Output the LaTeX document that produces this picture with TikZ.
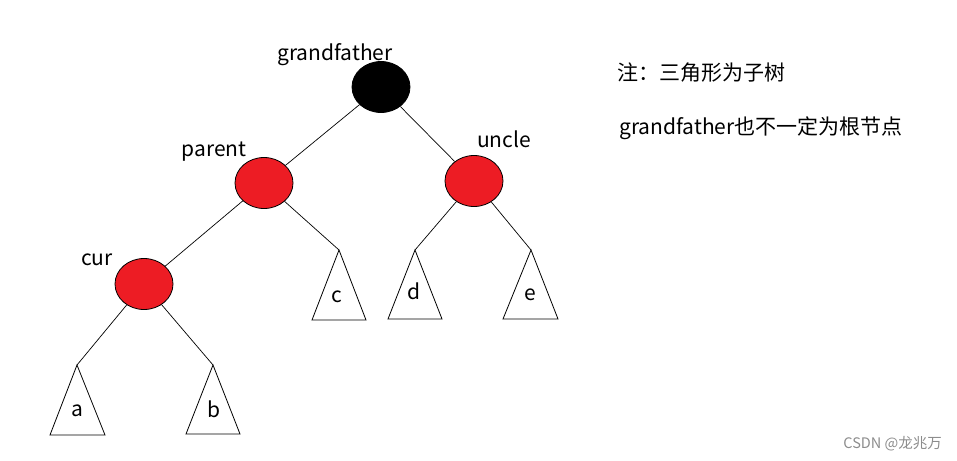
\documentclass[tikz,border=0pt]{standalone}
\usepackage{fontspec}
\setmainfont{Noto Sans CJK SC}
\usetikzlibrary{shapes.geometric}
\definecolor{paintred}{HTML}{ED1C24}
\begin{document}
\begin{tikzpicture}[x=1pt,y=-1pt,
  rb/.style={ellipse,draw=black,line width=0.8pt,minimum width=58pt,minimum height=51pt,inner sep=0pt},
  lbl/.style={font=\fontsize{21}{24}\selectfont,inner sep=0pt},
  edge/.style={draw=black,line width=0.7pt},
  tri/.style={draw=black,line width=0.8pt,line join=miter}]
\useasboundingbox (0,0) rectangle (957,460);
% nodes
\node[rb,fill=black] (gf) at (381,87) {};
\node[rb,fill=paintred] (par) at (264,183) {};
\node[rb,fill=paintred] (unc) at (474,181) {};
\node[rb,fill=paintred] (cur) at (144,284) {};
% labels
\node[lbl] (lgf) at (335,55) {grandfather};
\node[lbl] (lpar) at (214,152) {parent};
\node[lbl] (lunc) at (504,139) {uncle};
\node[lbl] (lcur) at (97,260) {cur};
% triangle apexes
\coordinate (ta) at (77,365);
\coordinate (tb) at (213,365);
\coordinate (tc) at (339,250);
\coordinate (td) at (415,250);
\coordinate (te) at (531,250);
% triangles
\draw[tri] (ta) -- (50,435) -- (105,435) -- cycle;
\draw[tri] (tb) -- (186,434) -- (240,434) -- cycle;
\draw[tri] (tc) -- (312,320) -- (366,320) -- cycle;
\draw[tri] (td) -- (388,319) -- (442,319) -- cycle;
\draw[tri] (te) -- (503,319) -- (558,319) -- cycle;
\node[lbl] (la) at (77,411) {a};
\node[lbl] (lb) at (214,409) {b};
\node[lbl] (lc) at (337,297) {c};
\node[lbl] (ld) at (414,291) {d};
\node[lbl] (le) at (530,295) {e};
% edges
\draw[edge] (gf) -- (par);
\draw[edge] (gf) -- (unc);
\draw[edge] (par) -- (cur);
\draw[edge] (par) -- (tc);
\draw[edge] (unc) -- (td);
\draw[edge] (unc) -- (te);
\draw[edge] (cur) -- (ta);
\draw[edge] (cur) -- (tb);
% notes
\node[lbl,anchor=west] (n1) at (617,73) {注：三角形为子树};
\node[lbl,anchor=west] (n2) at (619,128) {grandfather也不一定为根节点};
\node[font=\fontsize{14.5}{16}\selectfont,text=black!45,anchor=east,inner sep=0pt] (wm) at (942,444) {CSDN @龙兆万};
\end{tikzpicture}
\end{document}
